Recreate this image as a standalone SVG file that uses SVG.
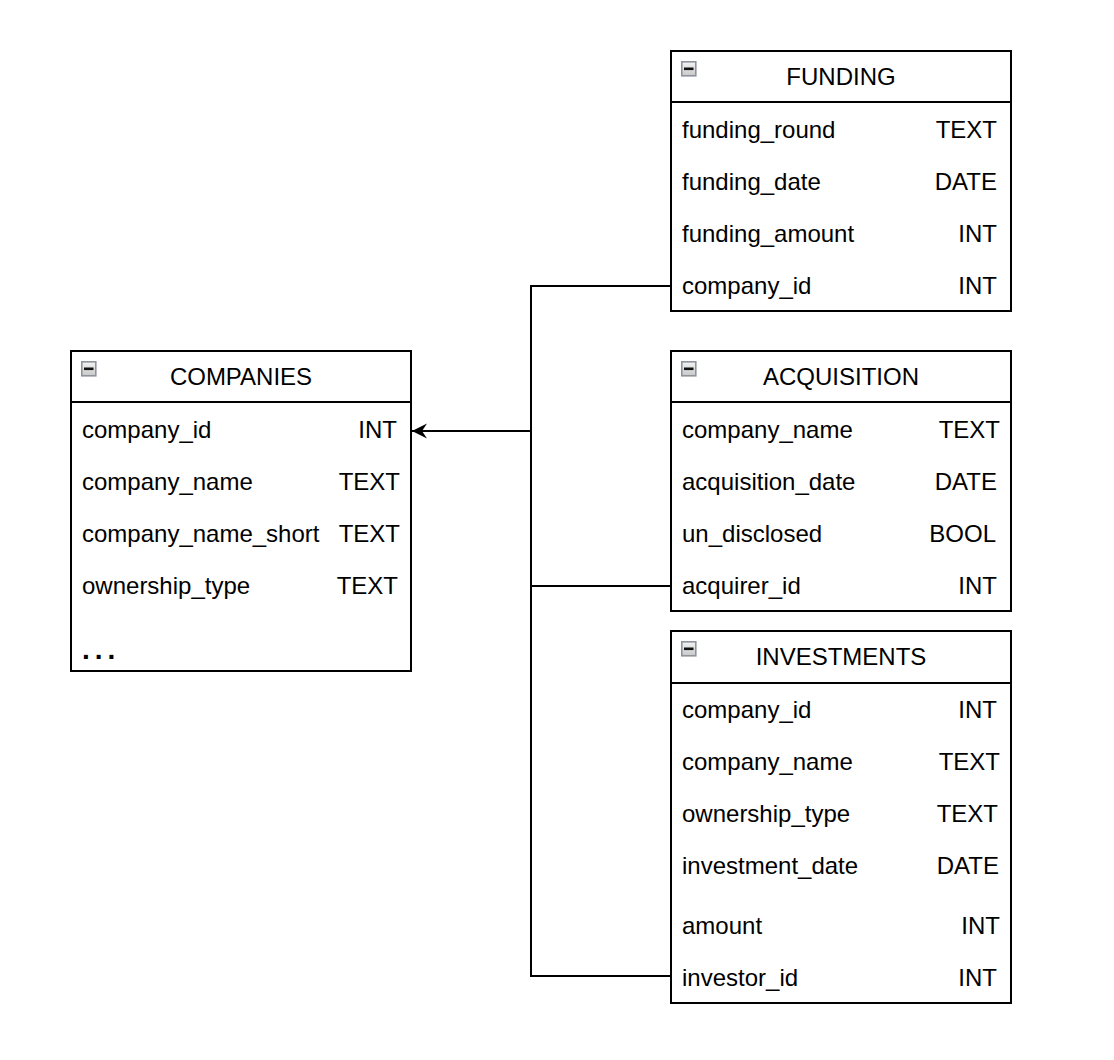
<svg xmlns="http://www.w3.org/2000/svg" width="1114" height="1060" viewBox="0 0 1114 1060">
<defs>
<linearGradient id="ig" x1="0" y1="0" x2="0" y2="1"><stop offset="0" stop-color="#f4f4f4"/><stop offset="1" stop-color="#c8c8c8"/></linearGradient>
<marker id="arr" viewBox="0 0 16 16" refX="15" refY="8" markerWidth="16" markerHeight="16" markerUnits="userSpaceOnUse" orient="auto"><path d="M15,8 L0,0.5 L5,8 L0,15.5 Z" fill="#000"/></marker>
</defs>
<style>
text{font-family:"Liberation Sans",Arial,sans-serif;font-size:24px;fill:#000}
.box{fill:#fff;stroke:#000;stroke-width:2}
.div{stroke:#000;stroke-width:2}
.t{text-anchor:middle}
.r{text-anchor:end}
.conn{fill:none;stroke:#000;stroke-width:2}
.ic{fill:url(#ig);stroke:#8e939c;stroke-width:1.6}
.bar{fill:#111}
</style>
<rect width="1114" height="1060" fill="#fff"/>
<g id="connectors">
<path class="conn" d="M671,286 H531 V976 H671"/>
<path class="conn" d="M671,586 H531"/>
<path class="conn" d="M531,431 H412" marker-end="url(#arr)"/>
</g>
<g id="funding">
<rect class="box" x="671" y="51" width="340" height="260"/>
<line class="div" x1="671" y1="102" x2="1011" y2="102"/>
<rect class="ic" x="681.8" y="61.8" width="14" height="14"/><rect class="bar" x="684" y="67.5" width="9.5" height="2.6"/>
<text class="t" x="841" y="85">FUNDING</text>
<text x="682" y="138">funding_round</text><text class="r" x="997" y="138">TEXT</text>
<text x="682" y="190">funding_date</text><text class="r" x="997" y="190">DATE</text>
<text x="682" y="242">funding_amount</text><text class="r" x="997" y="242">INT</text>
<text x="682" y="294">company_id</text><text class="r" x="997" y="294">INT</text>
</g>
<g id="acquisition">
<rect class="box" x="671" y="351" width="340" height="260"/>
<line class="div" x1="671" y1="402" x2="1011" y2="402"/>
<rect class="ic" x="681.8" y="361.8" width="14" height="14"/><rect class="bar" x="684" y="367.5" width="9.5" height="2.6"/>
<text class="t" x="841" y="385">ACQUISITION</text>
<text x="682" y="438">company_name</text><text class="r" x="1000" y="438">TEXT</text>
<text x="682" y="490">acquisition_date</text><text class="r" x="997" y="490">DATE</text>
<text x="682" y="542">un_disclosed</text><text class="r" x="996" y="542">BOOL</text>
<text x="682" y="594">acquirer_id</text><text class="r" x="997" y="594">INT</text>
</g>
<g id="companies">
<rect class="box" x="71" y="351" width="340" height="320"/>
<line class="div" x1="71" y1="402" x2="411" y2="402"/>
<rect class="ic" x="81.8" y="361.8" width="14" height="14"/><rect class="bar" x="84" y="367.5" width="9.5" height="2.6"/>
<text class="t" x="241" y="385">COMPANIES</text>
<text x="82" y="438">company_id</text><text class="r" x="397" y="438">INT</text>
<text x="82" y="490">company_name</text><text class="r" x="400" y="490">TEXT</text>
<text x="82" y="542">company_name_short</text><text class="r" x="400" y="542">TEXT</text>
<text x="82" y="594">ownership_type</text><text class="r" x="398" y="594">TEXT</text>
<text x="82" y="659" style="font-weight:bold;font-size:28px;letter-spacing:5px">...</text>
</g>
<g id="investments">
<rect class="box" x="671" y="631" width="340" height="372"/>
<line class="div" x1="671" y1="683" x2="1011" y2="683"/>
<rect class="ic" x="681.8" y="641.8" width="14" height="14"/><rect class="bar" x="684" y="647.5" width="9.5" height="2.6"/>
<text class="t" x="841" y="665">INVESTMENTS</text>
<text x="682" y="718">company_id</text><text class="r" x="997" y="718">INT</text>
<text x="682" y="770">company_name</text><text class="r" x="1000" y="770">TEXT</text>
<text x="682" y="822">ownership_type</text><text class="r" x="998" y="822">TEXT</text>
<text x="682" y="874">investment_date</text><text class="r" x="999" y="874">DATE</text>
<text x="682" y="934">amount</text><text class="r" x="1000" y="934">INT</text>
<text x="682" y="986">investor_id</text><text class="r" x="997" y="986">INT</text>
</g>
</svg>
